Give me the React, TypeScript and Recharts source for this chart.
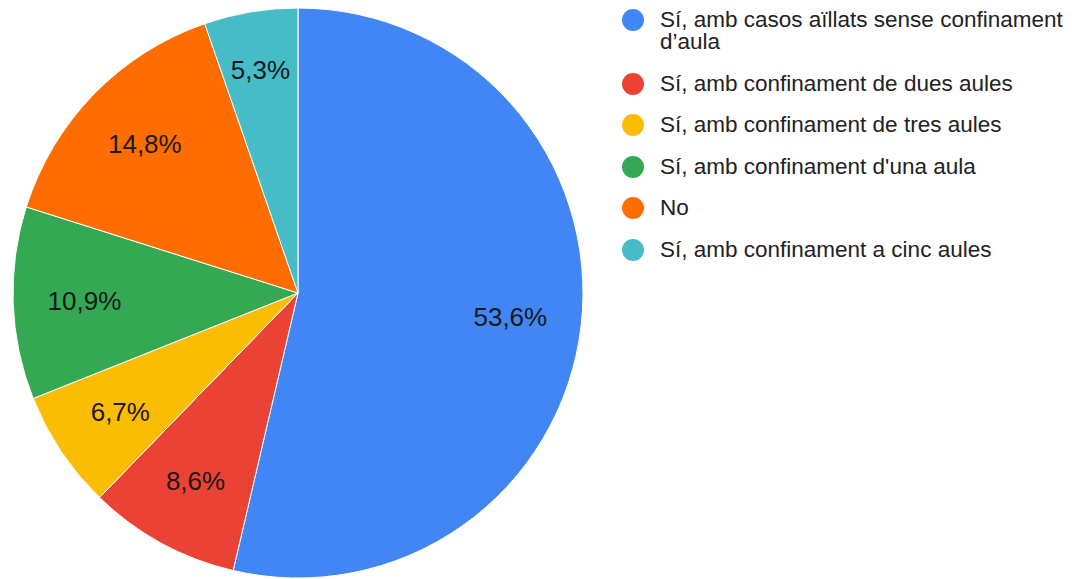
import { Cell, Legend, Pie, PieChart } from "recharts";

const categories = [
  "Sí, amb casos aïllats sense confinament d’aula",
  "Sí, amb confinament de dues aules",
  "Sí, amb confinament de tres aules",
  "Sí, amb confinament d'una aula",
  "No",
  "Sí, amb confinament a cinc aules",
];

const percents = [53.6, 8.6, 6.7, 10.9, 14.8, 5.3];

const colors = ["#4285F4", "#EA4335", "#FBBC04", "#34A853", "#FF6D01", "#46BDC6"];

const data = categories.map((name, i) => ({ name, value: percents[i] }));

const RADIAN = Math.PI / 180;
const FONT = "Arial, 'Liberation Sans', sans-serif";

// labels sit at 3/4 of the radius, pushed out a bit on thin slices so the text fits
const renderLabel = (props: any) => {
  const { cx, cy, midAngle, outerRadius, value, startAngle, endAngle } = props;
  const half = (Math.abs(endAngle - startAngle) / 2) * RADIAN;
  const textW = 59;
  let r = outerRadius * 0.75;
  const need = (textW / 2 + 8) / Math.sin(half);
  if (need > r) r = Math.min(need, outerRadius - 30);
  const x = cx + r * Math.cos(-midAngle * RADIAN);
  const y = cy + r * Math.sin(-midAngle * RADIAN);
  return (
    <text
      x={x}
      y={y}
      fill="#1a1a1a"
      fontSize={26}
      fontFamily={FONT}
      textAnchor="middle"
      dominantBaseline="central"
    >
      {value.toFixed(1).replace(".", ",")}%
    </text>
  );
};

const renderLegend = () => (
  <div style={{ fontFamily: FONT, fontSize: 22.5, color: "#222" }}>
    {data.map((d, i) => (
      <div
        key={d.name}
        style={{ display: "flex", alignItems: "flex-start", marginBottom: 19.5, lineHeight: "22px" }}
      >
        <span
          style={{
            width: 22,
            height: 22,
            borderRadius: "50%",
            background: colors[i],
            flex: "none",
            marginRight: 16,
          }}
        />
        <span style={{ width: 415 }}>{d.name}</span>
      </div>
    ))}
  </div>
);

const App = () => {
  return (
    <div style={{ position: "absolute", left: 0, top: 0, width: 1075, height: 579, background: "#fff" }}>
      <PieChart width={1075} height={579} margin={{ top: 0, right: 0, bottom: 0, left: 0 }}>
        <Pie
          data={data}
          dataKey="value"
          nameKey="name"
          cx={298}
          cy={293}
          outerRadius={285}
          startAngle={90}
          endAngle={-270}
          stroke="#fff"
          strokeWidth={1}
          label={renderLabel}
          labelLine={false}
          isAnimationActive={false}
        >
          {data.map((d, i) => (
            <Cell key={d.name} fill={colors[i]} />
          ))}
        </Pie>
        <Legend
          content={renderLegend}
          wrapperStyle={{ position: "absolute", left: 622, top: 9, width: 453 }}
        />
      </PieChart>
    </div>
  );
};

export default App;
